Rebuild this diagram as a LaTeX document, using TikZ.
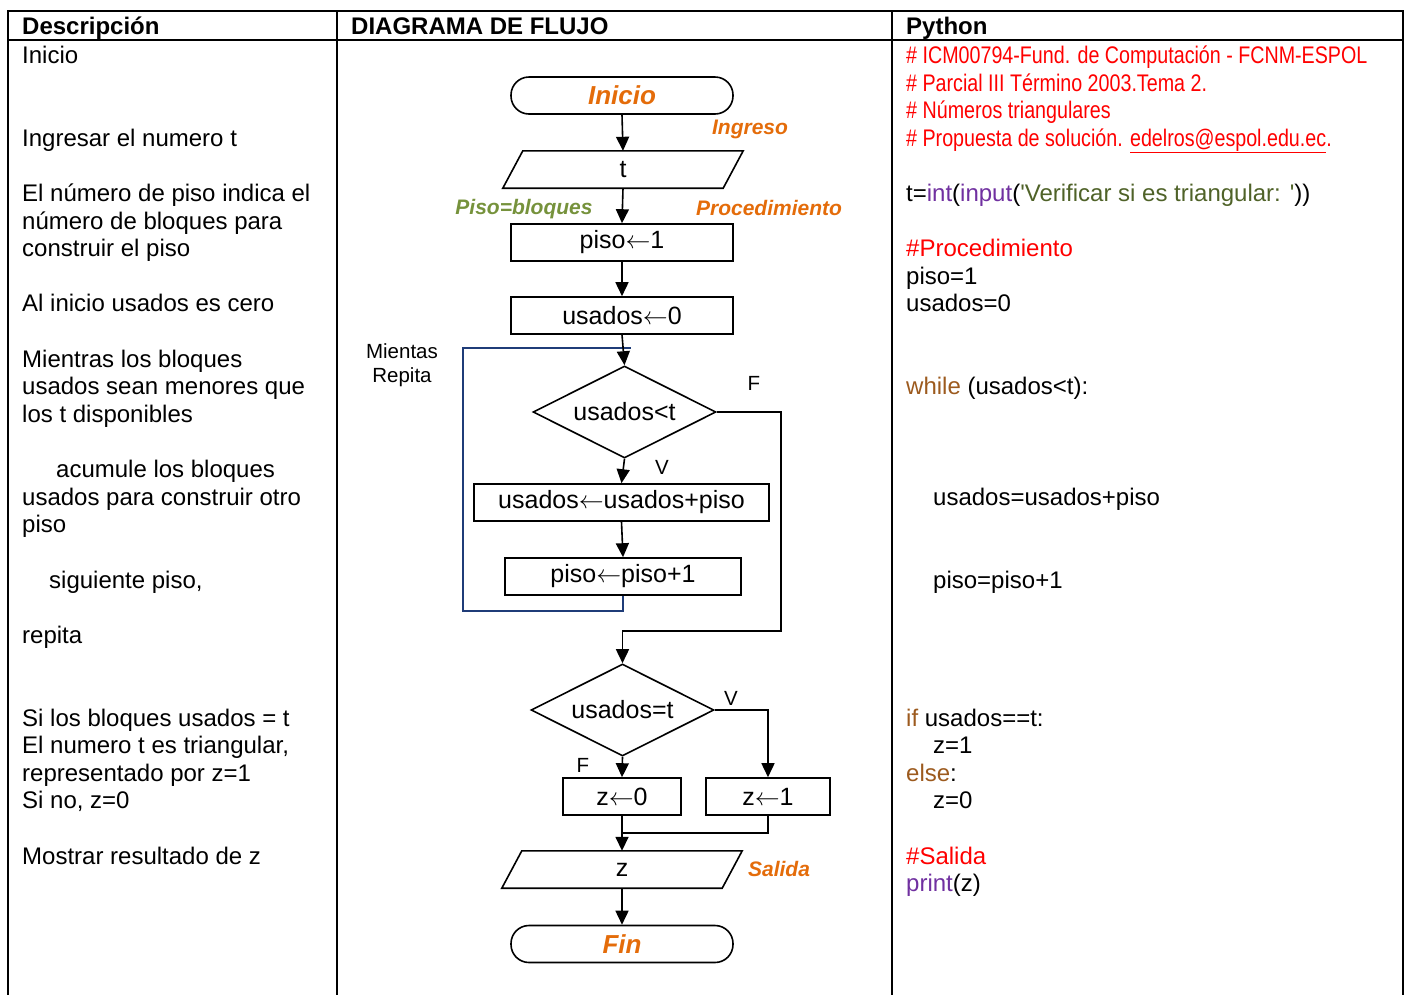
\documentclass[tikz,border=0pt]{standalone}
\usepackage{fontspec}
\setmainfont{Liberation Sans}
\newfontfamily\narrowfont{Liberation Sans}[FakeStretch=0.82]
\usetikzlibrary{shapes.geometric,arrows.meta}
\definecolor{orng}{HTML}{E46C0A}
\definecolor{lgreen}{HTML}{76923C}
\definecolor{strg}{HTML}{4F6228}
\definecolor{purp}{HTML}{7030A0}
\definecolor{brwn}{HTML}{9C5A1E}
\definecolor{navy}{HTML}{1F3C78}
\definecolor{red}{HTML}{FF0000}
\tikzset{
 txt/.style={anchor=base west, inner sep=0, font=\fontsize{24}{27.6}\selectfont},
 hdr/.style={anchor=base west, inner sep=0, font=\fontsize{24}{27.6}\bfseries\selectfont},
 proc/.style={draw, line width=1.6pt, minimum width=#1, minimum height=37pt, inner sep=0pt, font=\fontsize{25}{30}\selectfont},
 term/.style={draw, rounded corners=18pt, line width=1.6pt, minimum width=222pt, minimum height=37pt, inner sep=0pt, font=\fontsize{26}{30}\bfseries\itshape\selectfont, text=orng},
 io/.style={minimum width=220pt, minimum height=37pt, inner sep=0pt, font=\fontsize{25}{30}\selectfont},
 dec/.style={diamond, aspect=2, draw, line width=1.6pt, minimum width=183pt, minimum height=92pt, inner sep=0pt, font=\fontsize{25}{30}\selectfont},
 flow/.style={line width=1.6pt, -{Triangle[width=13pt,length=14pt]}},
 plain/.style={line width=1.6pt},
 loopline/.style={line width=1.8pt, draw=navy},
 lab/.style={font=\fontsize{21}{24}\bfseries\itshape\selectfont, text=orng, inner sep=0pt},
 small/.style={font=\fontsize{20.5}{24}\selectfont, inner sep=0pt},
 tbl/.style={line width=2pt},
}
\begin{document}
\begin{tikzpicture}[x=1pt,y=-1pt]
\useasboundingbox (0,0) rectangle (1409,994);
% table
\draw[tbl] (8,11) -- (1403,11);
\draw[tbl] (8,40) -- (1403,40);
\draw[tbl] (8,10) -- (8,995);
\draw[tbl] (337,10) -- (337,995);
\draw[tbl] (892,10) -- (892,995);
\draw[tbl] (1403,10) -- (1403,995);
\node[hdr] at (22,34) {Descripción};
\node[hdr] at (351,34) {DIAGRAMA DE FLUJO};
\node[hdr] at (906,34) {Python};
% description
\node[txt] at (22,63) {Inicio};
\node[txt] at (22,146) {Ingresar el numero t};
\node[txt] at (22,201) {El número de piso indica el};
\node[txt] at (22,229) {número de bloques para};
\node[txt] at (22,256) {construir el piso};
\node[txt] at (22,311) {Al inicio usados es cero};
\node[txt] at (22,367) {Mientras los bloques};
\node[txt] at (22,394) {usados sean menores que};
\node[txt] at (22,422) {los t disponibles};
\node[txt] at (56,477) {acumule los bloques};
\node[txt] at (22,505) {usados para construir otro};
\node[txt] at (22,532) {piso};
\node[txt] at (49,588) {siguiente piso,};
\node[txt] at (22,643) {repita};
\node[txt] at (22,726) {Si los bloques usados = t};
\node[txt] at (22,753) {El numero t es triangular,};
\node[txt] at (22,781) {representado por z=1};
\node[txt] at (22,808) {Si no, z=0};
\node[txt] at (22,864) {Mostrar resultado de z};
% python
\node[txt, text=red] at (906,63) {\narrowfont \# ICM00794-Fund. de Computación - FCNM-ESPOL};
\node[txt, text=red] at (906,91) {\narrowfont \# Parcial III Término 2003.Tema 2.};
\node[txt, text=red] at (906,118) {\narrowfont \# Números triangulares};
\node[txt, text=red] at (906,146) {\narrowfont \# Propuesta de solución. \underline{edelros@espol.edu.ec}.};
\node[txt] at (906,201) {t=\textcolor{purp}{int}(\textcolor{purp}{input}(\textcolor{strg}{\textquotesingle Verificar si es triangular: \textquotesingle}))};
\node[txt, text=red] at (906,256) {\#Procedimiento};
\node[txt] at (906,284) {piso=1};
\node[txt] at (906,311) {usados=0};
\node[txt] at (906,394) {\textcolor{brwn}{while} (usados<t):};
\node[txt] at (933,505) {usados=usados+piso};
\node[txt] at (933,588) {piso=piso+1};
\node[txt] at (906,726) {\textcolor{brwn}{if} usados==t:};
\node[txt] at (933,753) {z=1};
\node[txt] at (906,781) {\textcolor{brwn}{else}:};
\node[txt] at (933,808) {z=0};
\node[txt, text=red] at (906,864) {\#Salida};
\node[txt] at (906,891) {\textcolor{purp}{print}(z)};
% flowchart nodes
\node[term] (ini) at (622,95.5) {Inicio};
\node[io] (t) at (623,169.5) {t};
\draw[plain] ([xshift=10pt]t.north west) -- ([xshift=10pt]t.north east) -- ([xshift=-10pt]t.south east) -- ([xshift=-10pt]t.south west) -- cycle;
\node[proc=222pt] (p1) at (622,242.5) {piso$\leftarrow$1};
\node[proc=222pt] (u0) at (622,315.5) {usados$\leftarrow$0};
\node[dec] (d1) at (624.5,412) {usados<t};
\node[proc=295pt] (uu) at (621.5,502.5) {usados$\leftarrow$usados+piso};
\node[proc=236pt] (pp) at (623,576.5) {piso$\leftarrow$piso+1};
\node[dec] (d2) at (622.5,710) {usados=t};
\node[proc=118pt] (z0) at (622,796.5) {z$\leftarrow$0};
\node[proc=124pt] (z1) at (768,796.5) {z$\leftarrow$1};
\node[io] (zo) at (622,869.5) {z};
\draw[plain] ([xshift=10pt]zo.north west) -- ([xshift=10pt]zo.north east) -- ([xshift=-10pt]zo.south east) -- ([xshift=-10pt]zo.south west) -- cycle;
\node[term] (fin) at (622,944) {Fin};
% labels
\node[lab] (lin) at (750,129) {Ingreso};
\node[lab, text=lgreen] (lpb) at (524,209) {Piso=bloques};
\node[lab] (lpr) at (769,208) {Procedimiento};
\node[lab] (lsa) at (779,869) {Salida};
\node[small] (mr) at (402,366) {\begin{tabular}{@{}c@{}}Mientas\\[0pt]Repita\end{tabular}};
\node[small] (f1) at (754,383) {F};
\node[small] (v1) at (662,467) {V};
\node[small] (v2) at (731,698) {V};
\node[small] (f2) at (583,765) {F};
% coordinates
\coordinate (lb) at (463,611);
\coordinate (lt) at (463,348);
\coordinate (fr) at (781,631);
\coordinate (mj) at (622,833);
% connectors
\draw[loopline] (pp.south) -- (pp.south |- lb) -- (lb) -- (lt) -- ([xshift=6pt]lt -| d1.north);
\draw[flow] (ini.south) -- (t.north);
\draw[flow] (t.south) -- (p1.north);
\draw[flow] (p1.south) -- (u0.north);
\draw[flow] (u0.south) -- (d1.north);
\draw[flow] (d1.south) -- (uu.north);
\draw[flow] (uu.south) -- (pp.north);
\draw[flow] (d1.east) -| (fr) -| (d2.north);
\draw[flow] (d2.east) -| (z1.north);
\draw[flow] (d2.south) -- (z0.north);
\draw[flow] (z0.south) -- (zo.north);
\draw[plain] (z1.south) |- (mj);
\draw[flow] (zo.south) -- (fin.north);
\end{tikzpicture}
\end{document}
